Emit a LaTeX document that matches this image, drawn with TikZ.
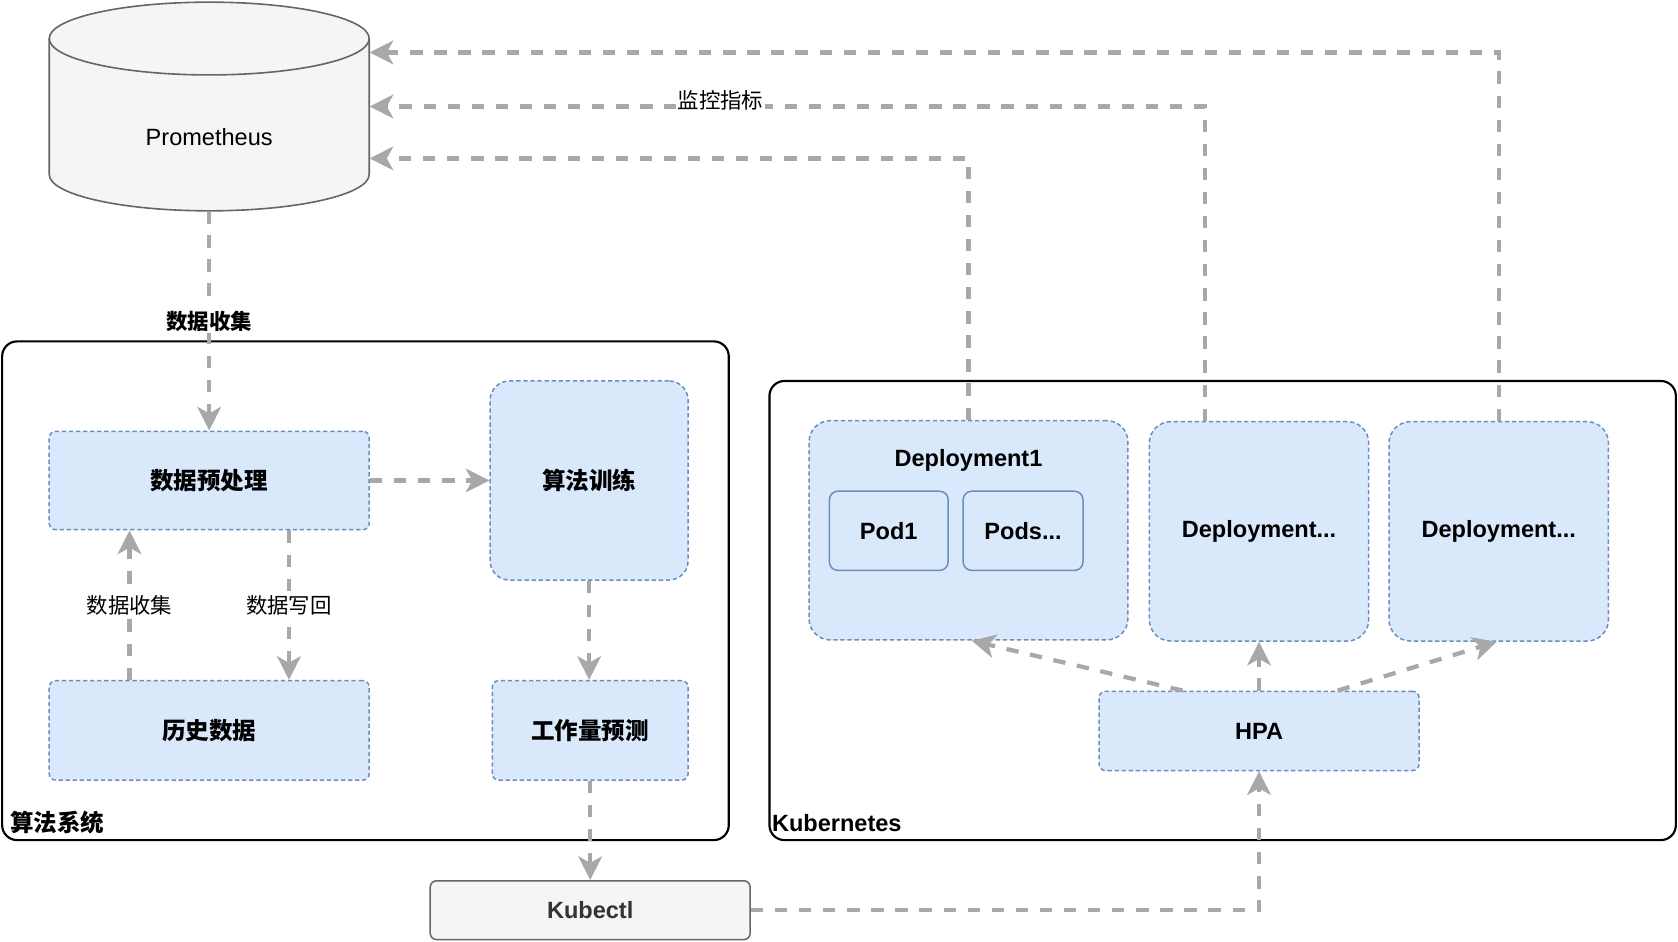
\documentclass[tikz,border=0pt]{standalone}
\usepackage{fontspec}
\setmainfont{Liberation Sans}
\newfontfamily\cjk{Noto Sans CJK SC}
\usetikzlibrary{arrows.meta}

\definecolor{boxfill}{HTML}{DAE8FC}
\definecolor{boxline}{HTML}{6C8EBF}
\definecolor{grayfill}{HTML}{F5F5F5}
\definecolor{grayline}{HTML}{666666}
\definecolor{flowline}{HTML}{A8A8A8}

\tikzset{block/.style = {shape=rectangle,draw=boxline,fill=boxfill,line width=0.7pt,dash pattern=on 2pt off 1.3pt,rounded corners=3pt,inner sep=0pt,font=\fontsize{11}{13}\selectfont\bfseries}}
\tikzset{pod/.style = {block,solid,rounded corners=4pt}}
\tikzset{tool/.style = {block,solid,draw=grayline,fill=grayfill,text={rgb,255:red,51;green,51;blue,51}}}
\tikzset{group/.style = {shape=rectangle,draw=black,line width=1pt,rounded corners=7pt,inner sep=0pt}}
\tikzset{title/.style = {inner sep=0pt,font=\fontsize{11}{13}\selectfont\bfseries}}
\tikzset{edge/.style = {draw=flowline,line width=2pt,dash pattern=on 5.75pt off 5.5pt,-{Stealth[length=11pt,width=11pt,inset=3pt]}}}
\tikzset{lbl/.style = {fill=white,inner sep=1pt,font=\fontsize{10}{12}\selectfont}}

\begin{document}
\begin{tikzpicture}[x=0.5pt,y=-0.5pt]
  \useasboundingbox (0,0) rectangle (1568,880);

  % Prometheus cylinder
  \draw[draw=grayline,fill=grayfill,line width=0.75pt] (46,36) -- (46,163)
    arc[start angle=180,end angle=360,x radius=74.75pt,y radius=17pt] -- (345,36)
    arc[start angle=0,end angle=180,x radius=74.75pt,y radius=17pt] -- cycle;
  \draw[draw=grayline,line width=0.75pt] (46,36) arc[start angle=180,end angle=360,x radius=74.75pt,y radius=17pt];
  \node[inner sep=0pt,minimum width=149.5pt,minimum height=97.5pt,
        label={[anchor=center,yshift=-14.25pt,font=\fontsize{11}{13}\selectfont]center:Prometheus}] (prom) at (195.5,99.5) {};

  % groups
  \node[group,minimum width=339.5pt,minimum height=233pt] (sys) at (341.5,552) {};
  \node[group,minimum width=423.5pt,minimum height=214.5pt] (kube) at (1142.5,570.5) {};
  \node[title,anchor=west] at ([xshift=4pt,yshift=8.5pt]sys.south west) {\cjk 算法系统};
  \node[title,anchor=west] at ([xshift=1.5pt,yshift=8.5pt]kube.south west) {Kubernetes};

  % algorithm system
  \node[block,minimum width=149.5pt,minimum height=46pt] (pre) at (195.5,449) {\cjk 数据预处理};
  \node[block,rounded corners=9pt,minimum width=92.5pt,minimum height=93pt] (train) at (550.5,449) {\cjk 算法训练};
  \node[block,minimum width=149.5pt,minimum height=46.5pt] (hist) at (195.5,682.5) {\cjk 历史数据};
  \node[block,minimum width=91.5pt,minimum height=46.5pt] (pred) at (551.5,682.5) {\cjk 工作量预测};
  \node[tool,minimum width=149.5pt,minimum height=27.5pt] (kctl) at (551.5,850.5) {Kubectl};

  % kubernetes
  \node[block,rounded corners=10pt,minimum width=149pt,minimum height=102.5pt,
        label={[anchor=center,yshift=-19pt,font=\fontsize{11}{13}\selectfont\bfseries]north:Deployment1}] (dep1) at (905,495.5) {};
  \node[pod,minimum width=55.5pt,minimum height=37pt] (pod1) at (830.5,496) {Pod1};
  \node[pod,minimum width=56pt,minimum height=37pt] (pods) at (956,496) {Pods...};
  \node[block,rounded corners=10pt,minimum width=102.5pt,minimum height=102.5pt] (dep2) at (1176.5,496.5) {Deployment...};
  \node[block,rounded corners=10pt,minimum width=102.5pt,minimum height=102.5pt] (dep3) at (1400.5,496.5) {Deployment...};
  \node[block,minimum width=149.5pt,minimum height=37pt] (hpa) at (1176.5,683) {HPA};

  \draw[edge] (prom.south) -- node[lbl,font=\fontsize{10}{12}\selectfont\bfseries] {\cjk 数据收集} (pre.north);
  \draw[edge] (pre.east) -- (train.west);
  \draw[edge] ([xshift=-37.25pt]hist.north) -- node[lbl] {\cjk 数据收集} ([xshift=-37.25pt]pre.south);
  \draw[edge] ([xshift=37.25pt]pre.south) -- node[lbl] {\cjk 数据写回} ([xshift=37.25pt]hist.north);
  \draw[edge] (train.south) -- (train.south |- pred.north);
  \draw[edge] (pred.south) -- (kctl.north);
  \draw[edge] (kctl.east) -| (hpa.south);

  \draw[edge] ([xshift=-35.75pt]hpa.north) -- ([xshift=1.5pt]dep1.south);
  \draw[edge] (hpa.north) -- (dep2.south);
  \draw[edge] ([xshift=36.75pt]hpa.north) -- ([xshift=-1pt]dep3.south);

  % metrics
  \draw[edge] (dep1.north) |- ([yshift=-24.25pt]prom.east);
  \draw[edge] ([xshift=-25.25pt]dep2.north) |- node[lbl,pos=0.79,yshift=3pt] {\cjk 监控指标} (prom.east);
  \draw[edge] (dep3.north) |- ([yshift=25.25pt]prom.east);
\end{tikzpicture}
\end{document}
